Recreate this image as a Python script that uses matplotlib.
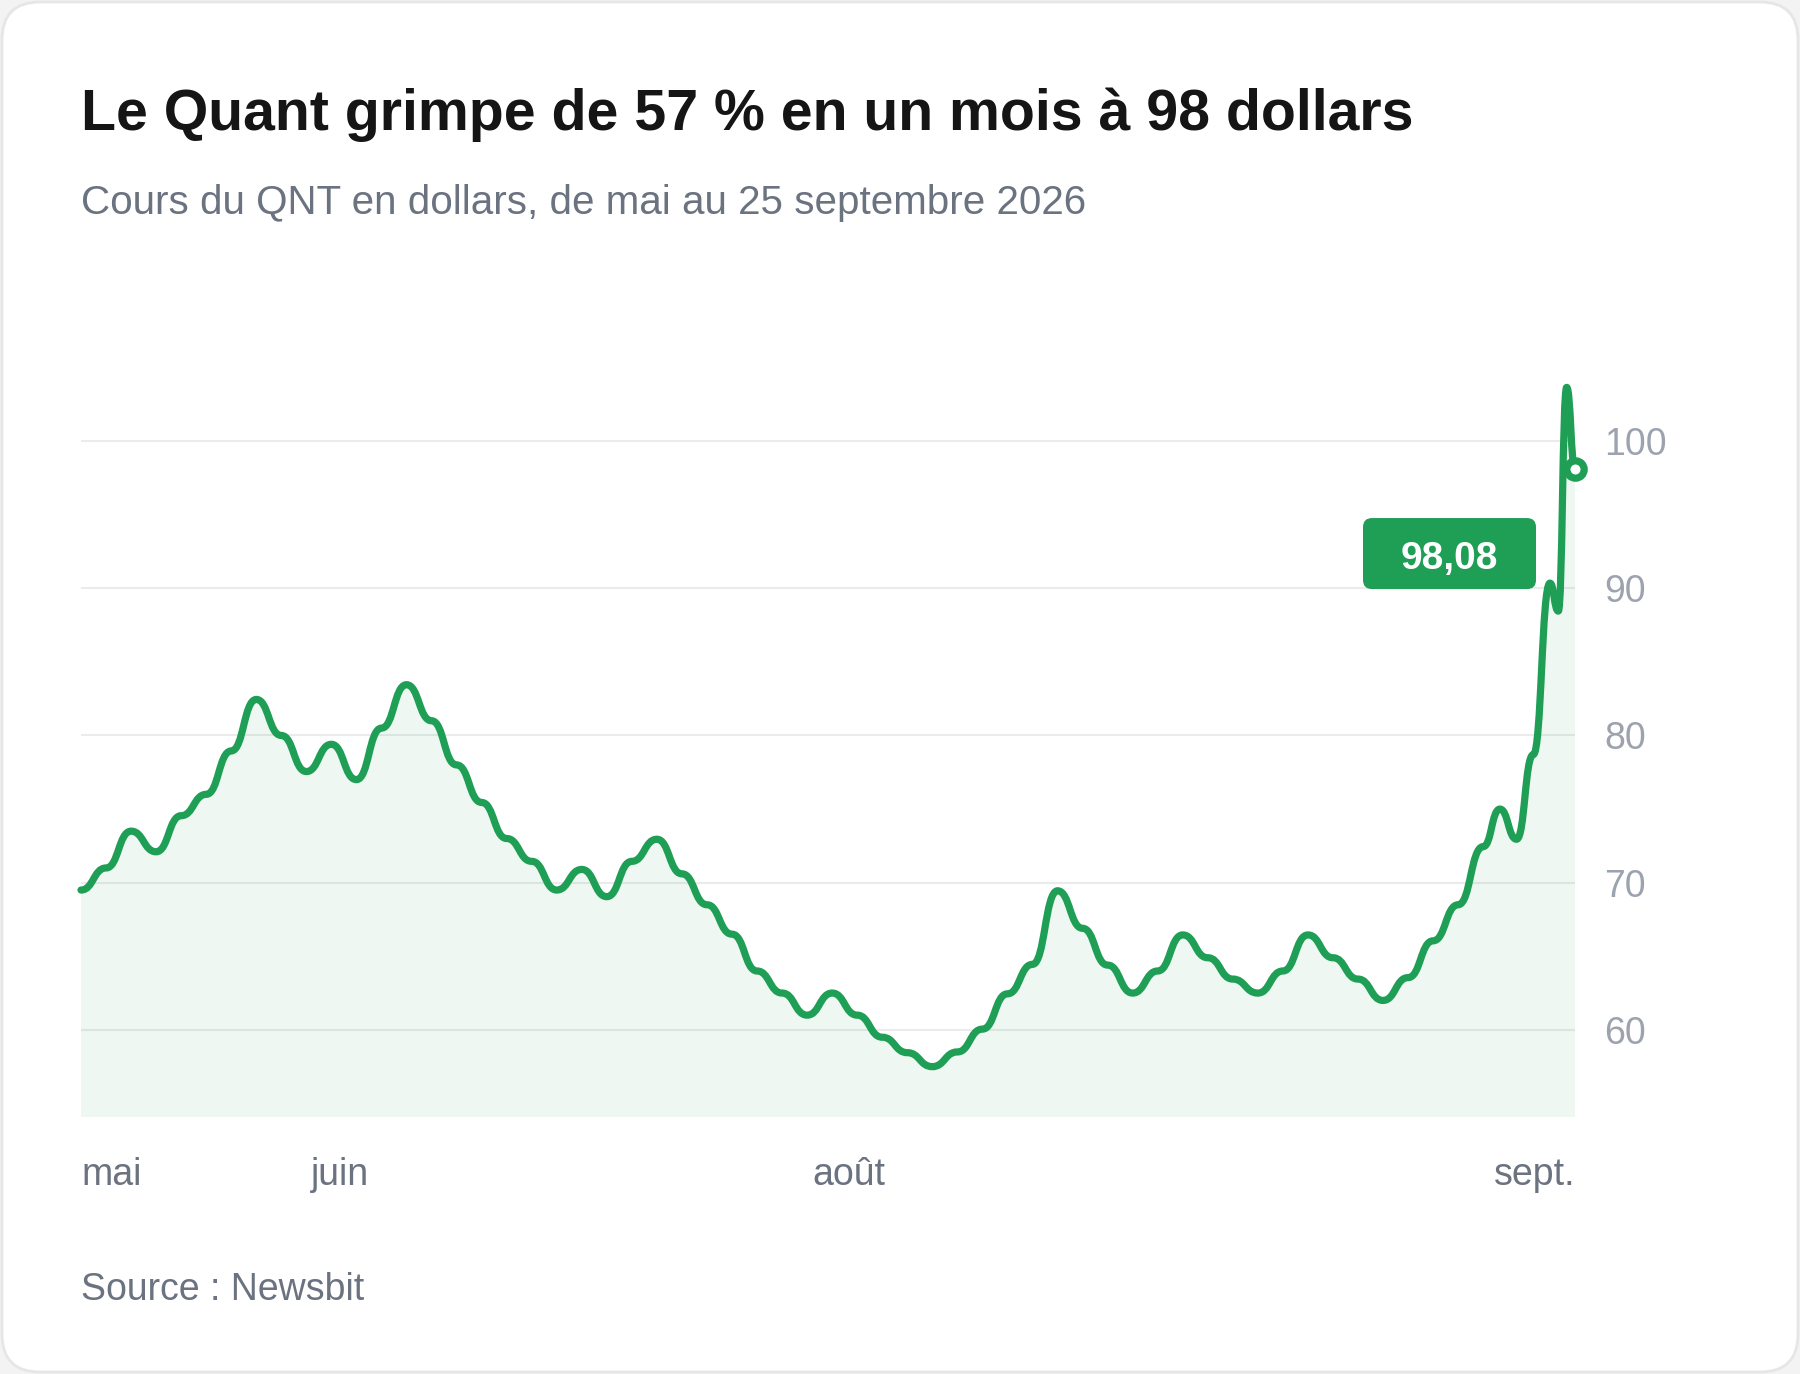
import numpy as np
import matplotlib
matplotlib.use("Agg")
import matplotlib.pyplot as plt
from matplotlib.path import Path
from matplotlib.patches import PathPatch, FancyBboxPatch
from matplotlib.transforms import IdentityTransform, blended_transform_factory

plt.rcParams["font.family"] = ["Liberation Sans", "DejaVu Sans"]

# jours depuis le 1er mai
days = [0, 3, 6, 9, 12, 15, 18, 21, 24, 27, 30, 33, 36, 39, 42, 45, 48, 51,
        54, 57, 60, 63, 66, 69, 72, 75, 78, 81, 84, 87, 90, 93, 96, 99, 102,
        105, 108, 111, 114, 117, 120, 123, 126, 129, 132, 135, 138, 141, 144,
        147, 150, 153, 156, 159, 162, 165, 168, 170, 172, 174, 176, 177, 178,
        179]
prices = [69.5, 71.0, 73.5, 72.1, 74.55, 76.0, 78.95, 82.45, 80.0, 77.55,
          79.4, 77.0, 80.5, 83.45, 81.0, 78.0, 75.45, 73.0, 71.45, 69.5, 70.9,
          69.05, 71.45, 72.95, 70.6, 68.5, 66.5, 64.0, 62.5, 61.0, 62.5, 61.0,
          59.5, 58.45, 57.5, 58.5, 60.05, 62.45, 64.45, 69.45, 66.9, 64.4,
          62.5, 64.0, 66.45, 64.9, 63.45, 62.5, 64.0, 66.45, 64.9, 63.45,
          62.0, 63.55, 66.05, 68.5, 72.45, 75.0, 72.95, 78.7, 90.35, 88.45,
          103.65, 98.08]

month_labels = ["mai", "juin", "août", "sept."]
month_days = [0, 31, 92, 179]
month_align = ["left", "center", "center", "right"]
y_ticks = [60, 70, 80, 90, 100]
last_label = "98,08"

GREEN = "#1f9e56"
GRAY = "#6b7280"
LIGHT = "#9ca3af"

W, H = 1800, 1374


def bump_path(x, y):
    # courbe "bump" horizontale entre chaque point (type d3.curveBumpX)
    verts = [(x[0], y[0])]
    codes = [Path.MOVETO]
    for x0, y0, x1, y1 in zip(x[:-1], y[:-1], x[1:], y[1:]):
        xm = (x0 + x1) / 2
        verts += [(xm, y0), (xm, y1), (x1, y1)]
        codes += [Path.CURVE4] * 3
    return verts, codes


fig = plt.figure(figsize=(W / 100, H / 100), dpi=100, facecolor="#f3f3f3")

card = FancyBboxPatch((2, 2), W - 4, H - 4, boxstyle="round,pad=0,rounding_size=38",
                      transform=IdentityTransform(), facecolor="white",
                      edgecolor="#e6e6e6", linewidth=2, zorder=-1)
fig.add_artist(card)

ax = fig.add_axes([81 / W, (H - 1117) / H, 1494 / W, 749.5 / H])
ax.patch.set_visible(False)
ymin, ymax = 54.08, 105
ax.set_xlim(0, days[-1])
ax.set_ylim(ymin, ymax)
for sp in ax.spines.values():
    sp.set_visible(False)

ax.set_axisbelow(True)
ax.grid(axis="y", color="#ebebeb", linewidth=1.5)
ax.yaxis.tick_right()
ax.set_yticks(y_ticks)
ax.tick_params(axis="y", length=0, pad=21, labelsize=27, labelcolor=LIGHT)
ax.set_xticks([])

verts, codes = bump_path(days, prices)
fill_verts = verts + [(days[-1], ymin), (days[0], ymin), (days[0], ymin)]
fill_codes = codes + [Path.LINETO, Path.LINETO, Path.CLOSEPOLY]
ax.add_patch(PathPatch(Path(fill_verts, fill_codes), facecolor=GREEN, alpha=0.075,
                       edgecolor="none", zorder=1))
ax.add_patch(PathPatch(Path(verts, codes), fill=False, edgecolor=GREEN, linewidth=5.2,
                       capstyle="round", joinstyle="round", zorder=3, clip_on=False))
ax.plot(days[-1], prices[-1], "o", ms=12.5, mfc="white", mec=GREEN, mew=5.2,
        clip_on=False, zorder=5)

# mois sous l'axe
trans = blended_transform_factory(ax.transData, ax.transAxes)
for lbl, d, ha in zip(month_labels, month_days, month_align):
    ax.text(d, -0.0907, lbl, transform=trans, ha=ha, va="baseline",
            fontsize=27, color=GRAY)

# étiquette de la dernière valeur
ex, ey = ax.transData.transform((days[-1], prices[-1]))
bx, by, bw, bh = ex - 212, ey - 119.7, 173, 71
fig.add_artist(FancyBboxPatch((bx, by), bw, bh, boxstyle="round,pad=0,rounding_size=9",
                              transform=IdentityTransform(), facecolor=GREEN,
                              edgecolor="none", zorder=6))
fig.text(bx + bw / 2, by + bh / 2 - 15.4, last_label, transform=IdentityTransform(),
         ha="center", va="baseline", fontsize=28, fontweight="bold", color="white",
         zorder=7)

fig.text(81 / W, 1 - 130 / H, "Le Quant grimpe de 57 % en un mois à 98 dollars",
         fontsize=41.2, fontweight="bold", color="#151515", va="baseline")
fig.text(81 / W, 1 - 214 / H, "Cours du QNT en dollars, de mai au 25 septembre 2026",
         fontsize=29.1, color=GRAY, va="baseline")
fig.text(81 / W, 1 - 1300 / H, "Source : Newsbit", fontsize=27, color=GRAY,
         va="baseline")

fig.savefig("out.png", dpi=100, facecolor=fig.get_facecolor())
